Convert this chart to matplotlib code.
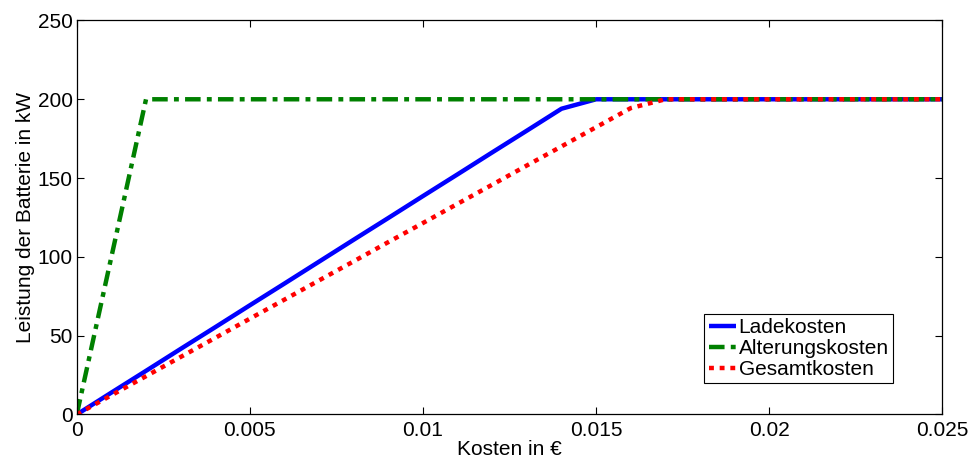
import matplotlib
matplotlib.use("Agg")
import matplotlib.pyplot as plt

plt.rcParams['font.family'] = ['Liberation Sans', 'DejaVu Sans']

kosten = [0.000, 0.001, 0.002, 0.003, 0.004, 0.005, 0.006, 0.007, 0.008, 0.009,
          0.010, 0.011, 0.012, 0.013, 0.014, 0.015, 0.016, 0.017, 0.018, 0.019,
          0.020, 0.021, 0.022, 0.023, 0.024, 0.025]
ladekosten = [0, 13.9, 27.7, 41.6, 55.4, 69.3, 83.1, 97.0, 110.9, 124.7,
              138.6, 152.4, 166.3, 180.1, 194.0, 200, 200, 200, 200, 200,
              200, 200, 200, 200, 200, 200]
alterungskosten = [0, 100, 200, 200, 200, 200, 200, 200, 200, 200,
                   200, 200, 200, 200, 200, 200, 200, 200, 200, 200,
                   200, 200, 200, 200, 200, 200]
gesamtkosten = [0, 12.2, 24.3, 36.5, 48.6, 60.8, 72.9, 85.1, 97.2, 109.4,
                121.5, 133.7, 145.8, 158.0, 170.1, 182.3, 194.4, 200, 200, 200,
                200, 200, 200, 200, 200, 200]

xticks = [0, 0.005, 0.01, 0.015, 0.02, 0.025]
xticklabels = ['0', '0.005', '0.01', '0.015', '0.02', '0.025']
yticks = [0, 50, 100, 150, 200, 250]

fs = 15

fig = plt.figure(figsize=(9.73, 4.61), dpi=100)
ax = fig.add_axes([0.0789, 0.1009, 0.8896, 0.8547])

lw = 3.2
ax.plot(kosten, ladekosten, color='#0000ff', lw=lw, label='Ladekosten',
        solid_capstyle='butt')
ax.plot(kosten, alterungskosten, color='#008000', lw=lw, label='Alterungskosten',
        linestyle=(0, (3.5, 1.4, 1.1, 1.4)), dash_capstyle='butt')
ax.plot(kosten, gesamtkosten, color='#ff0000', lw=lw, label='Gesamtkosten',
        linestyle=(0, (1.1, 1.3)), dash_capstyle='butt')

ax.set_xlim(0, 0.025)
ax.set_ylim(0, 250)
ax.set_xticks(xticks)
ax.set_xticklabels(xticklabels)
ax.set_yticks(yticks)
ax.tick_params(direction='in', top=True, right=True, labelsize=fs, length=5,
               width=0.8)
ax.tick_params(axis='x', pad=5)
ax.tick_params(axis='y', pad=3)
for s in ax.spines.values():
    s.set_linewidth(0.9)

ax.set_xlabel('Kosten in €', fontsize=fs, labelpad=0)
ax.set_ylabel('Leistung der Batterie in kW', fontsize=fs, labelpad=2)

leg = ax.legend(loc='lower right', bbox_to_anchor=(0.943, 0.080), fontsize=fs,
                fancybox=False, framealpha=1, edgecolor='black',
                borderpad=0.2, handlelength=1.3, handletextpad=0.15,
                labelspacing=0.08, borderaxespad=0)
leg.get_frame().set_linewidth(0.8)

fig.savefig('out.png', dpi=100)
